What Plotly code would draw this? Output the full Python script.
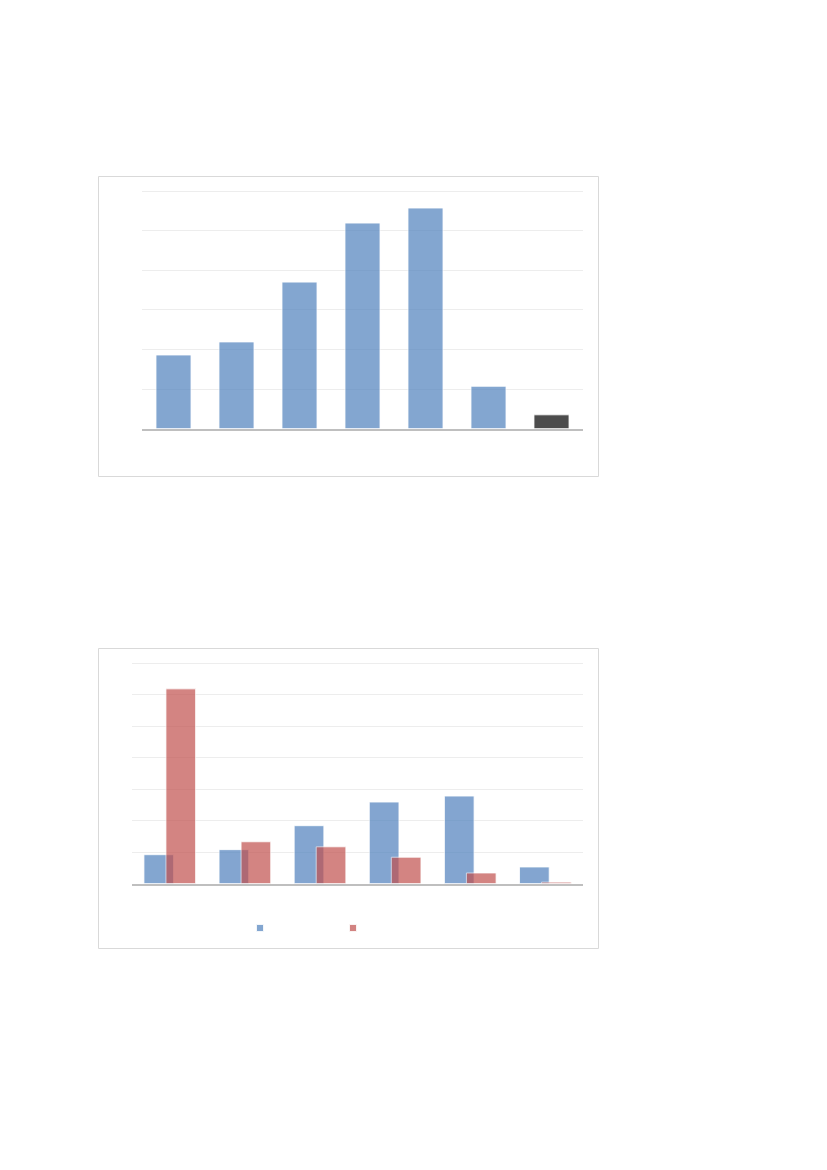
import plotly.graph_objects as go

W, H = 827, 1170

# --- data -----------------------------------------------------------------
top_categories = ["G1", "G2", "G3", "G4", "G5", "G6", "G7"]
top_values = [18.6, 21.9, 37.0, 51.9, 55.7, 10.7, 3.5]

bottom_categories = ["K1", "K2", "K3", "K4", "K5", "K6"]
series_a = [9.2, 10.8, 18.4, 25.9, 27.8, 5.3]
series_b = [61.8, 13.3, 11.7, 8.4, 3.4, 0.5]

BLUE = "#4F81BD"
RED = "#C0504D"
DARK = "#000000"
GRID = "#ededed"
AXIS = "#bfbfbf"
FRAME = "#d9d9d9"


def px_x(v):
    return v / W


def px_y(v):
    return 1 - v / H


fig = go.Figure()

# top chart: single series, last bar highlighted dark
top_colors = [BLUE] * (len(top_values) - 1) + [DARK]
fig.add_trace(go.Bar(
    x=top_categories, y=top_values, xaxis="x", yaxis="y",
    marker=dict(color=top_colors, line=dict(color="rgba(255,255,255,0.8)", width=1)),
    opacity=0.7, showlegend=False,
))

# bottom chart: two overlapping series
bar_w = 0.395
fig.add_trace(go.Bar(
    x=bottom_categories, y=series_a, xaxis="x2", yaxis="y2",
    width=bar_w, offset=-0.345,
    marker=dict(color=BLUE, line=dict(color="rgba(255,255,255,0.8)", width=1)),
    opacity=0.7, showlegend=False,
))
fig.add_trace(go.Bar(
    x=bottom_categories, y=series_b, xaxis="x2", yaxis="y2",
    width=bar_w, offset=-0.052,
    marker=dict(color=RED, line=dict(color="rgba(255,255,255,0.8)", width=1)),
    opacity=0.7, showlegend=False,
))

# small square legend keys for the bottom chart
for col in (BLUE, RED):
    fig.add_trace(go.Scatter(
        x=[None], y=[None], xaxis="x2", yaxis="y2", mode="markers",
        marker=dict(symbol="square", size=7, color=col, opacity=0.7,
                    line=dict(color="rgba(255,255,255,0.8)", width=1)),
        name=" ", showlegend=True,
    ))

axis_common = dict(showticklabels=False, ticks="", zeroline=False)

# ranges padded one unit above the last gridline so the top line is drawn
fig.update_layout(
    width=W, height=H,
    margin=dict(l=0, r=0, t=0, b=0),
    paper_bgcolor="white", plot_bgcolor="white",
    barmode="overlay", bargap=0.444,
    xaxis=dict(domain=[px_x(142), px_x(583)], anchor="y", showgrid=False,
               showline=True, linecolor=AXIS, linewidth=1.6, **axis_common),
    yaxis=dict(domain=[px_y(428.7), px_y(187.04)], anchor="x", range=[0, 61], dtick=10,
               showgrid=True, gridcolor=GRID, gridwidth=1, showline=False, **axis_common),
    xaxis2=dict(domain=[px_x(132.3), px_x(583)], anchor="y2", showgrid=False,
                showline=True, linecolor=AXIS, linewidth=1.6, **axis_common),
    yaxis2=dict(domain=[px_y(883.7), px_y(659.85)], anchor="x2", range=[0, 71], dtick=10,
                showgrid=True, gridcolor=GRID, gridwidth=1, showline=False, **axis_common),
    legend=dict(orientation="h", x=px_x(240), xanchor="left", y=px_y(928), yanchor="middle",
                entrywidth=48, entrywidthmode="pixels", bgcolor="rgba(0,0,0,0)",
                font=dict(family="Liberation Sans", size=10, color="#595959")),
    shapes=[
        dict(type="rect", xref="paper", yref="paper",
             x0=px_x(98.5), x1=px_x(598.5), y0=px_y(476.5), y1=px_y(176.5),
             line=dict(color=FRAME, width=1), fillcolor="rgba(0,0,0,0)", layer="below"),
        dict(type="rect", xref="paper", yref="paper",
             x0=px_x(98.5), x1=px_x(598.5), y0=px_y(948.5), y1=px_y(648.5),
             line=dict(color=FRAME, width=1), fillcolor="rgba(0,0,0,0)", layer="below"),
    ],
)

fig.write_html("out.html")
